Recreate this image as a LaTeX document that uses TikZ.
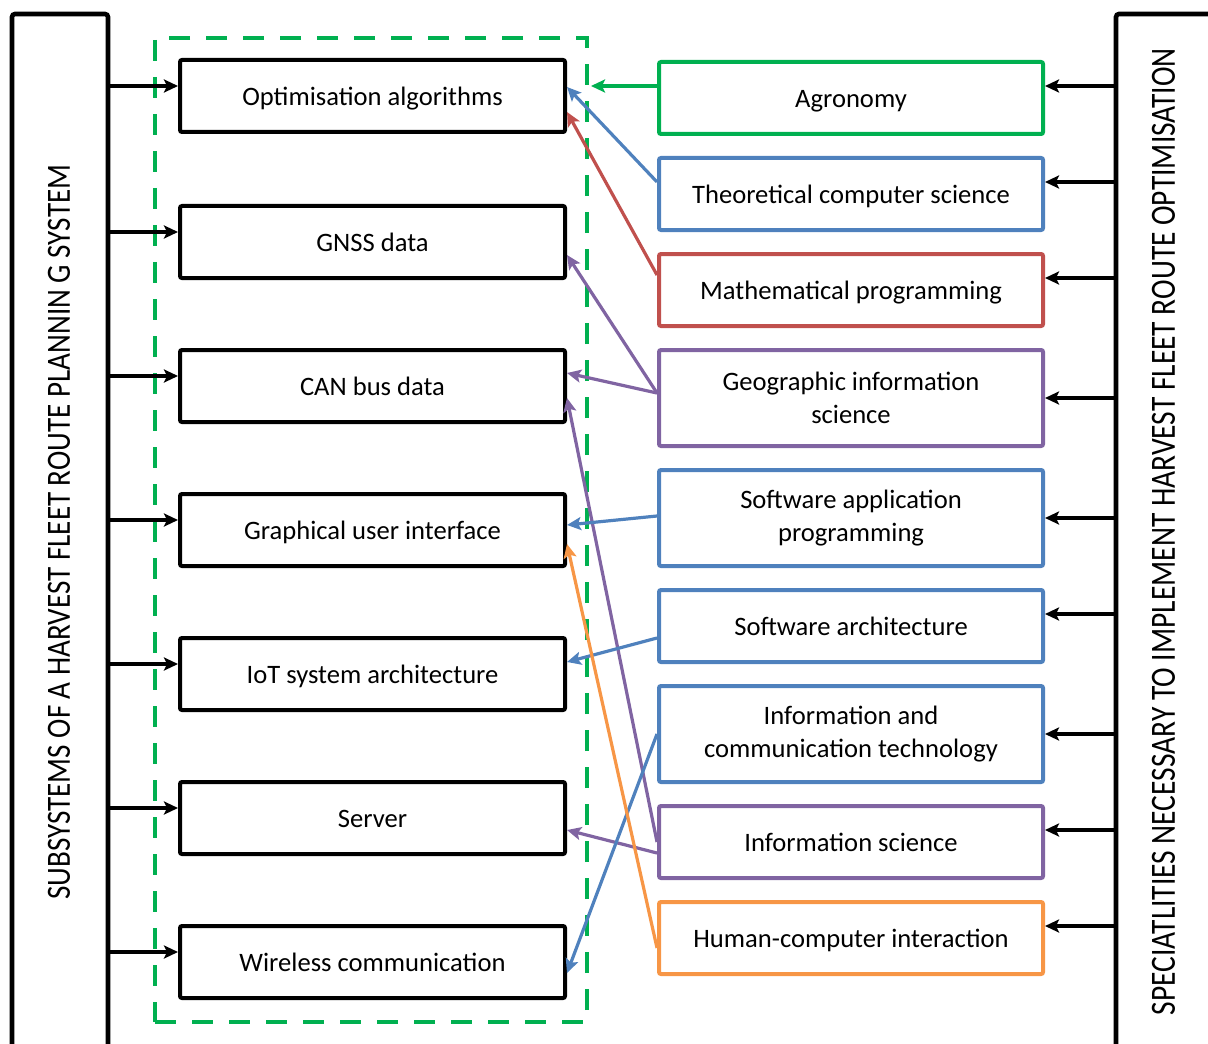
\documentclass[tikz,border=0pt]{standalone}
\usepackage{fontspec}
\usepackage{graphicx}
\setmainfont{Carlito}
\usetikzlibrary{arrows.meta,fit,calc}
\definecolor{cgreen}{HTML}{00B050}
\definecolor{cblue}{HTML}{4F81BD}
\definecolor{cred}{HTML}{C0504D}
\definecolor{cpurple}{HTML}{8064A2}
\definecolor{corange}{HTML}{F79646}
\begin{document}
\begin{tikzpicture}[x=0.5pt,y=-0.5pt,
  boxfont/.style={font=\fontsize{13.3}{16.5}\selectfont},
  oneline/.style={text height=12pt,text depth=2.8pt},
  sidebar/.style={draw=black,line width=2.3pt,rounded corners=1.5pt,inner sep=0pt},
  sub/.style={draw=black,line width=2pt,rounded corners=1pt,minimum width=192.5pt,
    minimum height=36pt,inner sep=0pt,boxfont,oneline,align=center},
  spec/.style={line width=2pt,rounded corners=1pt,minimum width=192pt,
    inner sep=0pt,boxfont,align=center},
  short/.style={spec,oneline,minimum height=36pt},
  tall/.style={spec,minimum height=48pt},
  feed/.style={-{Stealth[length=7pt,width=6.5pt,inset=1.5pt]},line width=1.75pt,black},
  link/.style={-{Stealth[length=7pt,width=6.5pt,inset=1.5pt]},line width=1.6pt}]
\useasboundingbox (0,0) rectangle (1208,1043);
\clip (0,0) rectangle (1208,1043);

% side bars (they run off the lower / right edge)
\node[sidebar,fit={(12,14) (108,1100)}] (lbar) {};
\node[sidebar,fit={(1116,14) (1300,1100)}] (rbar) {};
\node[rotate=90,inner sep=0pt] (ltxt) at (59,532)
  {\resizebox{367.5pt}{11pt}{SUBSYSTEMS OF A HARVEST FLEET ROUTE PLANNIN G SYSTEM}};
\node[rotate=90,inner sep=0pt] (rtxt) at (1163.5,531.5)
  {\resizebox{483.5pt}{11.5pt}{SPECIATLITIES NECESSARY TO IMPLEMENT HARVEST FLEET ROUTE OPTIMISATION}};

% dashed group of subsystems
\node[fit={(155,38) (587,1022)},inner sep=0pt,draw=cgreen,line width=2pt,
  dash pattern=on 10.5pt off 8pt] (grp) {};

% subsystems
\node[sub] (o1) at (372.5,96)  {Optimisation algorithms};
\node[sub] (o2) at (372.5,242) {GNSS data};
\node[sub] (o3) at (372.5,386) {CAN bus data};
\node[sub] (o4) at (372.5,530) {Graphical user interface};
\node[sub] (o5) at (372.5,674) {IoT system architecture};
\node[sub] (o6) at (372.5,818) {Server};
\node[sub] (o7) at (372.5,962) {Wireless communication};

% specialities
\node[short,draw=cgreen]   (agro)  at (851,98)  {Agronomy};
\node[short,draw=cblue]    (theo)  at (851,194) {Theoretical computer science};
\node[short,draw=cred]     (math)  at (851,290) {Mathematical programming};
\node[tall,draw=cpurple]   (geo)   at (851,398) {Geographic information\\science};
\node[tall,draw=cblue]     (sapp)  at (851,518) {Software application\\programming};
\node[short,draw=cblue]    (sarch) at (851,626) {Software architecture};
\node[tall,draw=cblue]     (ict)   at (851,734) {Information and\\communication technology};
\node[short,draw=cpurple]  (info)  at (851,842) {Information science};
\node[short,draw=corange]  (hci)   at (851,938) {Human-computer interaction};

% arrows from the left bar
\foreach \n in {o1,o2,o3,o4,o5,o6,o7}{
  \coordinate (\n a) at ([yshift=5pt]\n.west);
  \draw[feed] (\n a -| lbar.east) -- (\n a);
}
% arrows from the right bar
\foreach \n/\s in {agro/6pt,theo/6pt,math/6pt,geo/0pt,sapp/0pt,sarch/6pt,ict/0pt,info/6pt,hci/6pt}{
  \coordinate (\n a) at ([yshift=\s]\n.east);
  \draw[feed] (\n a -| rbar.west) -- (\n a);
}

% links between specialities and subsystems
\coordinate (agrol) at ([yshift=6pt]agro.west);
\draw[link,cgreen]  (agrol) -- ([xshift=1pt]agrol -| grp.east);
\draw[link,cblue]   ([yshift=6pt]theo.west)    -- ([yshift=4.5pt]o1.east);
\draw[link,cred]    ([yshift=7.5pt]math.west)  -- ([yshift=-8pt]o1.east);
\draw[link,cpurple] ([yshift=2.5pt]geo.west)   -- ([yshift=-6.5pt]o2.east);
\draw[link,cpurple] ([yshift=2.5pt]geo.west)   -- ([yshift=6.5pt]o3.east);
\draw[link,cpurple] (info.west)                -- ([yshift=-6pt]o3.east);
\draw[link,cpurple] ([yshift=-5.5pt]info.west) -- ([yshift=-6pt]o6.east);
\draw[link,cblue]   ([yshift=1pt]sapp.west)    -- ([yshift=2.5pt]o4.east);
\draw[link,cblue]   ([yshift=-6pt]sarch.west)  -- ([yshift=6pt]o5.east);
\draw[link,cblue]   (ict.west)                 -- ([yshift=-5.5pt]o7.east);
\draw[link,corange] ([yshift=-5pt]hci.west)    -- ([yshift=-7pt]o4.east);
\end{tikzpicture}
\end{document}
